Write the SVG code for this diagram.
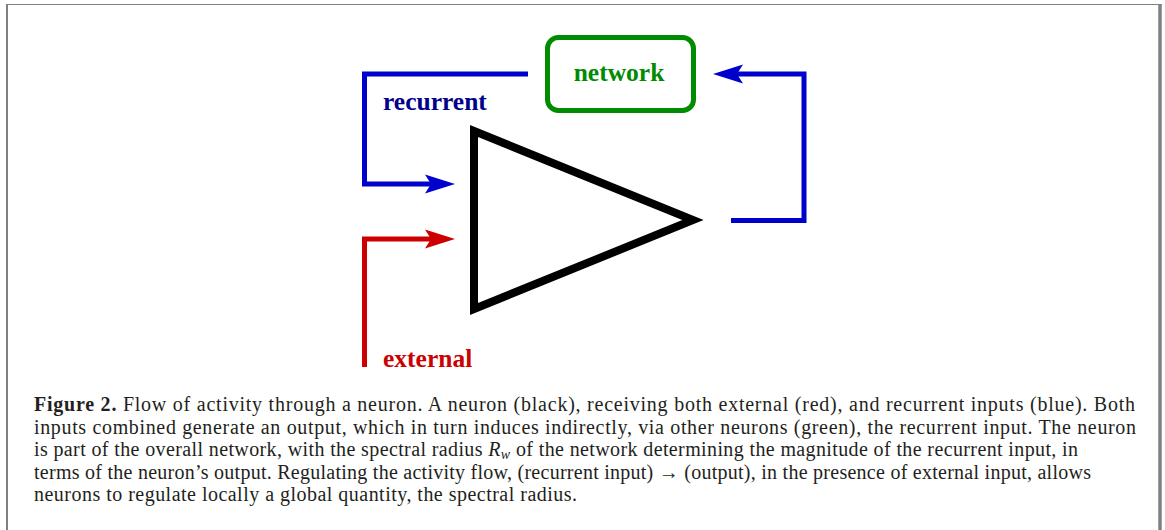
<svg xmlns="http://www.w3.org/2000/svg" width="1165" height="530" viewBox="0 0 1165 530">
<style>
.lbl{font-family:"Liberation Serif","Times New Roman",serif;font-weight:bold;font-size:25.5px}
.cap{font-family:"Liberation Serif","Times New Roman",serif;font-size:20px;fill:#231f20}
.conn{fill:none;stroke-width:5;stroke-linejoin:miter;stroke-linecap:butt}
</style>
<defs>
<marker id="ahB" viewBox="-7 -10 32 20" refX="0" refY="0" markerWidth="32" markerHeight="20" markerUnits="userSpaceOnUse" orient="auto">
<path d="M24,0 L-6,-9.5 L0,0 L-6,9.5 Z" fill="#0000cc"/>
</marker>
<marker id="ahR" viewBox="-7 -10 32 20" refX="0" refY="0" markerWidth="32" markerHeight="20" markerUnits="userSpaceOnUse" orient="auto">
<path d="M24,0 L-6,-9.5 L0,0 L-6,9.5 Z" fill="#cc0000"/>
</marker>
</defs>
<rect width="1165" height="530" fill="#fff"/>
<g id="frame" fill="none" stroke="#808080">
<line x1="6" y1="4.5" x2="1162" y2="4.5" stroke-width="1.2"/>
<line x1="7" y1="4" x2="7" y2="530" stroke-width="2"/>
<line x1="1160" y1="4" x2="1160" y2="530" stroke-width="3.5"/>
</g>
<g id="connectors">
<path class="conn" stroke="#0000cc" d="M528,74 H364.5 V184 H431" marker-end="url(#ahB)"/>
<path class="conn" stroke="#cc0000" d="M364.5,367 V239 H431" marker-end="url(#ahR)"/>
<path class="conn" stroke="#0000cc" d="M731,220.5 H804 V74 H737" marker-end="url(#ahB)"/>
</g>
<g id="network">
<rect x="547.5" y="37.5" width="146" height="73" rx="11" fill="#fff" stroke="#008c00" stroke-width="5"/>
<text class="lbl" x="619" y="81" text-anchor="middle" fill="#008c00">network</text>
</g>
<g id="neuron">
<polygon points="474,131 474,309 693,220" fill="none" stroke="#000" stroke-width="8" stroke-linejoin="miter"/>
</g>
<g id="labels">
<text class="lbl" x="383" y="110" fill="#00008b">recurrent</text>
<text class="lbl" x="383" y="367" fill="#cc0000">external</text>
</g>
<g id="caption">
<text class="cap" x="34" y="411" textLength="1101" lengthAdjust="spacing"><tspan font-weight="bold">Figure 2.</tspan>  Flow of activity through a neuron. A neuron (black), receiving both external (red), and recurrent inputs (blue). Both</text>
<text class="cap" x="34" y="433.5" textLength="1102" lengthAdjust="spacing">inputs combined generate an output, which in turn induces indirectly, via other neurons (green), the recurrent input. The neuron</text>
<text class="cap" x="34" y="456" textLength="1044" lengthAdjust="spacing">is part of the overall network, with the spectral radius <tspan font-style="italic">R</tspan><tspan font-style="italic" font-size="14" dy="3">w</tspan><tspan dy="-3"> of the network determining the magnitude of the recurrent input, in</tspan></text>
<text class="cap" x="34" y="478.5" textLength="1057" lengthAdjust="spacing">terms of the neuron’s output. Regulating the activity flow, (recurrent input) → (output), in the presence of external input, allows</text>
<text class="cap" x="34" y="501" textLength="543" lengthAdjust="spacing">neurons to regulate locally a global quantity, the spectral radius.</text>
</g>
</svg>
